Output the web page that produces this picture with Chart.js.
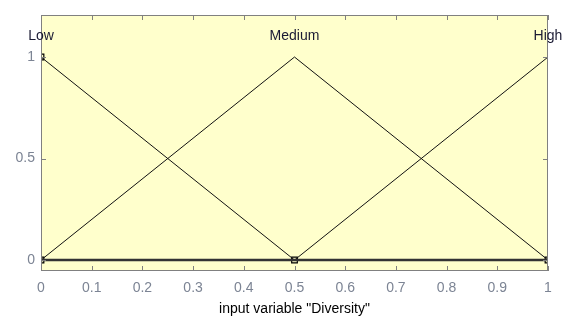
<!DOCTYPE html>
<html>
<head>
<meta charset="utf-8">
<script src="https://cdn.jsdelivr.net/npm/chart.js@4"></script>
<style>
html,body{margin:0;padding:0;background:#fff;}
#wrap{width:563px;height:322px;}
</style>
</head>
<body>
<div id="wrap"><canvas id="c" width="563" height="322"></canvas></div>
<script>
const xTicks = [0,0.1,0.2,0.3,0.4,0.5,0.6,0.7,0.8,0.9,1];
const yTicks = [0,0.5,1];
const mfNames = ["Low","Medium","High"];
const mfPeaks = [0,0.5,1];
const lowPts = [[0,1],[0.5,0]];
const mediumPts = [[0,0],[0.5,1],[1,0]];
const highPts = [[0.5,0],[1,1]];
const zeroLine = [[0,0],[1,0]];
const markerPts = [[0,1],[0,0],[0.5,0],[1,0]];
const xTitle = 'input variable "Diversity"';

const toXY = a => a.map(p => ({x:p[0], y:p[1]}));
const FONT = "'Liberation Sans', Arial, sans-serif";

const decor = {
  id:'decor',
  beforeDraw(chart){
    const {ctx, chartArea:a} = chart;
    ctx.save();
    ctx.fillStyle = '#FFFFCC';
    ctx.fillRect(a.left, a.top, a.right-a.left, a.bottom-a.top);
    ctx.restore();
  },
  afterDraw(chart){
    const {ctx, chartArea:a, scales} = chart;
    const xs = scales.x, ys = scales.y;
    ctx.save();
    ctx.strokeStyle = '#808080';
    ctx.lineWidth = 1;
    ctx.strokeRect(a.left+0.5, a.top+0.5, a.right-a.left-1, a.bottom-a.top-1);
    ctx.beginPath();
    xTicks.forEach(v => {
      const px = Math.round(xs.getPixelForValue(v))+0.5;
      ctx.moveTo(px, a.bottom); ctx.lineTo(px, a.bottom-5);
      ctx.moveTo(px, a.top); ctx.lineTo(px, a.top+5);
    });
    yTicks.forEach(v => {
      const py = Math.round(ys.getPixelForValue(v))+0.5;
      ctx.moveTo(a.left, py); ctx.lineTo(a.left+5, py);
      ctx.moveTo(a.right, py); ctx.lineTo(a.right-5, py);
    });
    ctx.stroke();
    ctx.fillStyle = '#1a1a33';
    ctx.font = '14px ' + FONT;
    ctx.textAlign = 'center';
    ctx.textBaseline = 'middle';
    mfNames.forEach((n,i) => {
      ctx.fillText(n, xs.getPixelForValue(mfPeaks[i]), 36);
    });
    ctx.fillStyle = '#000';
    ctx.font = '14px ' + FONT;
    ctx.fillText(xTitle, (a.left+a.right)/2, 309);
    ctx.restore();
  }
};

const lineDs = (label, pts) => ({
  label, data: toXY(pts), borderColor:'#111', borderWidth:1,
  pointRadius:0, fill:false, tension:0
});

new Chart(document.getElementById('c'), {
  type:'line',
  data:{
    datasets:[
      {label:'zero', data:toXY(zeroLine), borderColor:'#333', borderWidth:2.5, pointRadius:0, fill:false},
      lineDs('Low', lowPts),
      lineDs('Medium', mediumPts),
      lineDs('High', highPts),
      {label:'markers', data:toXY(markerPts), showLine:false, pointStyle:'rect',
       pointRadius:4, pointBorderColor:'#000', pointBackgroundColor:'#FFFFCC', pointBorderWidth:1.2}
    ]
  },
  options:{
    responsive:false, animation:false, devicePixelRatio:1,
    layout:{padding:{top:15, right:15, left:0, bottom:0}},
    plugins:{legend:{display:false}, tooltip:{enabled:false}},
    scales:{
      x:{type:'linear', min:0, max:1,
        afterBuildTicks: s => { s.ticks = xTicks.map(v => ({value:v})); },
        afterFit: s => { s.height = 51; },
        grid:{display:false, drawTicks:false}, border:{display:false},
        ticks:{padding:9, color:'#7c8494', font:{family:FONT, size:14},
          callback: v => String(v)}
      },
      y:{type:'linear', min:-0.054, max:1.207,
        afterBuildTicks: s => { s.ticks = yTicks.map(v => ({value:v})); },
        afterFit: s => { s.width = 41; },
        grid:{display:false, drawTicks:false}, border:{display:false},
        ticks:{padding:6, color:'#7c8494', font:{family:FONT, size:14},
          callback: v => String(v)}
      }
    }
  },
  plugins:[decor]
});
</script>
</body>
</html>
